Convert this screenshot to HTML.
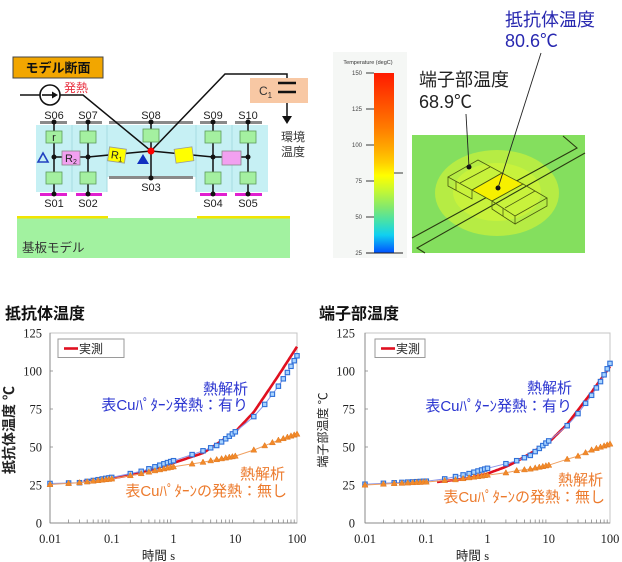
<!DOCTYPE html>
<html><head><meta charset="utf-8"><style>
html,body{margin:0;padding:0;background:#fff;}
svg{display:block;}
text{font-family:"Liberation Sans","Noto Sans CJK JP",sans-serif;}
.serif{font-family:"Liberation Serif","Noto Serif CJK SC",serif;}
</style></head><body>
<svg id="s" width="622" height="562" viewBox="0 0 622 562" xmlns="http://www.w3.org/2000/svg">
<defs>
<linearGradient id="cb" x1="0" y1="0" x2="0" y2="1">
<stop offset="0" stop-color="#ff1a00"/>
<stop offset="0.15" stop-color="#ff4a00"/>
<stop offset="0.3" stop-color="#ff7a00"/>
<stop offset="0.42" stop-color="#ffaa00"/>
<stop offset="0.5" stop-color="#ffd000"/>
<stop offset="0.57" stop-color="#ffff00"/>
<stop offset="0.65" stop-color="#c8f830"/>
<stop offset="0.75" stop-color="#80e870"/>
<stop offset="0.83" stop-color="#40e0b0"/>
<stop offset="0.9" stop-color="#10d0f0"/>
<stop offset="1" stop-color="#0050ff"/>
</linearGradient>
</defs>
<rect width="622" height="562" fill="#fff"/>

<!-- ===== circuit diagram ===== -->
<rect x="17" y="218" width="273" height="40" fill="#a2f2a0"/>
<rect x="17" y="216" width="91" height="2.5" fill="#f2e400"/>
<rect x="197" y="216" width="93" height="2.5" fill="#f2e400"/>
<text x="22" y="252" font-size="12.5" fill="#333">基板モデル</text>

<rect x="36" y="125" width="71" height="67" fill="#c6f0f4"/>
<rect x="107" y="125" width="89" height="52" fill="#c6f0f4"/>
<rect x="196" y="125" width="72" height="67" fill="#c6f0f4"/>
<line x1="72" y1="125" x2="72" y2="192" stroke="#a6dce2" stroke-width="1"/>
<line x1="107" y1="125" x2="107" y2="192" stroke="#a6dce2" stroke-width="1"/>
<line x1="196" y1="125" x2="196" y2="192" stroke="#a6dce2" stroke-width="1"/>
<line x1="232" y1="125" x2="232" y2="192" stroke="#a6dce2" stroke-width="1"/>

<g fill="#8a8a8a">
<rect x="40" y="121" width="27" height="3"/>
<rect x="76" y="121" width="26" height="3"/>
<rect x="109" y="121" width="84" height="3"/>
<rect x="200" y="121" width="27" height="3"/>
<rect x="235" y="121" width="27" height="3"/>
<rect x="109" y="176" width="84" height="3"/>
</g>
<g fill="#e020d0">
<rect x="40" y="193" width="27" height="3"/>
<rect x="76" y="193" width="26" height="3"/>
<rect x="200" y="193" width="27" height="3"/>
<rect x="235" y="193" width="27" height="3"/>
</g>

<g stroke="#111" stroke-width="1.5" fill="none">
<line x1="54" y1="122" x2="54" y2="194"/>
<line x1="88" y1="122" x2="88" y2="194"/>
<line x1="213" y1="122" x2="213" y2="194"/>
<line x1="248" y1="122" x2="248" y2="194"/>
<line x1="151" y1="122" x2="151" y2="178"/>
<line x1="54" y1="157" x2="88" y2="157"/>
<polyline points="88,157 151,151 213,157 248,157"/>
<line x1="20" y1="95" x2="40" y2="95"/>
<polyline points="60,95 83,95 151,151 225,74 287,74 287,83"/>
<line x1="287" y1="92" x2="287" y2="117"/>
</g>
<circle cx="50" cy="95" r="10" fill="#fff" stroke="#111" stroke-width="1.6"/>
<line x1="42" y1="95" x2="55" y2="95" stroke="#111" stroke-width="1.6"/>
<polygon points="58,95 52,91.5 52,98.5" fill="#111"/>

<rect x="13" y="57" width="90" height="21" fill="#f2a600" stroke="#444" stroke-width="1"/>
<text x="58" y="72.5" font-size="13" font-weight="bold" text-anchor="middle" fill="#111">モデル断面</text>
<text x="64" y="92" font-size="12" fill="#e83040">発熱</text>

<rect x="250" y="78" width="58" height="25" fill="#f8c8a4"/>
<text x="259" y="95" font-size="12" fill="#333">C<tspan font-size="8" dy="3">1</tspan></text>
<line x1="278" y1="83" x2="296" y2="83" stroke="#111" stroke-width="2.5"/>
<line x1="278" y1="92" x2="296" y2="92" stroke="#111" stroke-width="2.5"/>
<polygon points="282,116 292,116 287,124" fill="#111"/>
<text x="281" y="141" font-size="12" fill="#333">環境</text>
<text x="281" y="156" font-size="12" fill="#333">温度</text>

<g font-size="11" fill="#222" text-anchor="middle">
<text x="54" y="119">S06</text><text x="88" y="119">S07</text><text x="151" y="119">S08</text>
<text x="213" y="119">S09</text><text x="248" y="119">S10</text>
<text x="54" y="207">S01</text><text x="88" y="207">S02</text><text x="151" y="191">S03</text>
<text x="213" y="207">S04</text><text x="248" y="207">S05</text>
</g>

<g fill="#a4f0a0" stroke="#5c9c5c" stroke-width="0.8">
<rect x="46" y="131" width="16" height="12"/>
<rect x="80" y="131" width="16" height="12"/>
<rect x="143" y="129" width="16" height="13"/>
<rect x="205" y="131" width="16" height="12"/>
<rect x="240" y="131" width="16" height="12"/>
<rect x="46" y="172" width="16" height="12"/>
<rect x="80" y="172" width="16" height="12"/>
<rect x="205" y="172" width="16" height="12"/>
<rect x="240" y="172" width="16" height="12"/>
</g>
<text x="54" y="141" font-size="11" text-anchor="middle" fill="#222">r</text>
<rect x="62" y="151" width="18" height="14" fill="#f2a0f0" stroke="#888" stroke-width="0.8"/>
<text x="65" y="162" font-size="11" fill="#222">R<tspan font-size="7" dy="2">2</tspan></text>
<rect x="222" y="151" width="19" height="14" fill="#f2a0f0" stroke="#888" stroke-width="0.8"/>
<g transform="translate(117,155) rotate(8)">
<rect x="-8.5" y="-7" width="17" height="14" fill="#ffff00" stroke="#999" stroke-width="0.8"/>
<text x="-6" y="4" font-size="11" fill="#222">R<tspan font-size="7" dy="2">1</tspan></text>
</g>
<g transform="translate(184,155) rotate(-8)">
<rect x="-9" y="-7" width="18" height="14" fill="#ffff00" stroke="#999" stroke-width="0.8"/>
</g>
<polygon points="137,164 149,164 143,154" fill="#1030c0"/>
<polygon points="38,162 48,162 43,153" fill="none" stroke="#2040c0" stroke-width="1.6"/>
<g fill="#111">
<circle cx="54" cy="122" r="2.5"/><circle cx="88" cy="122" r="2.5"/><circle cx="151" cy="122" r="2.5"/>
<circle cx="213" cy="122" r="2.5"/><circle cx="248" cy="122" r="2.5"/>
<circle cx="54" cy="194" r="2.5"/><circle cx="88" cy="194" r="2.5"/><circle cx="151" cy="178" r="2.5"/>
<circle cx="213" cy="194" r="2.5"/><circle cx="248" cy="194" r="2.5"/>
<circle cx="54" cy="157" r="2.5"/><circle cx="88" cy="157" r="2.5"/>
<circle cx="213" cy="157" r="2.5"/><circle cx="248" cy="157" r="2.5"/>
</g>
<circle cx="151" cy="151" r="3.5" fill="#ff0000"/>

<!-- ===== colour bar ===== -->
<rect x="333" y="52" width="74" height="206" fill="#f5f7f5"/>
<text x="368" y="64" font-size="5.5" text-anchor="middle" fill="#333">Temperature (degC)</text>
<rect x="374" y="73" width="20" height="180" fill="url(#cb)"/>
<g stroke="#222" stroke-width="0.9">
<line x1="366" y1="73" x2="374" y2="73"/><line x1="366" y1="109" x2="374" y2="109"/>
<line x1="366" y1="145" x2="374" y2="145"/><line x1="366" y1="181" x2="374" y2="181"/>
<line x1="366" y1="217" x2="374" y2="217"/><line x1="366" y1="253" x2="403" y2="253"/>
<line x1="394" y1="173" x2="403" y2="173"/>
</g>
<g font-size="6" fill="#444" text-anchor="end">
<text x="362" y="75">150</text><text x="362" y="111">125</text><text x="362" y="147">100</text>
<text x="362" y="183">75</text><text x="362" y="219">50</text><text x="362" y="255">25</text>
</g>

<!-- ===== 3D view ===== -->
<rect x="412" y="135" width="173" height="118" fill="#84df5e"/>
<ellipse cx="497" cy="193" rx="62" ry="43" fill="#b6ec44"/>
<ellipse cx="497" cy="192" rx="44" ry="29" fill="#c8f23c"/>
<g stroke="#2a3a10" stroke-width="1.1" fill="none">
<polyline points="412,238 577,148 563,136"/>
<polyline points="425,253 417,248 585,153"/>
</g>
<polygon points="472,190 502,173 523,184 492,201" fill="#f6f000"/>
<g stroke="#4a5a10" stroke-width="0.8" fill="none">
<polygon points="448,177 478,160 502,173 472,190"/>
<polyline points="448,177 448,186 472,199 472,190"/>
<line x1="460" y1="183" x2="490" y2="167"/>
<line x1="456" y1="181" x2="456" y2="190"/>
<polygon points="472,190 502,173 523,184 492,201"/>
<polygon points="492,201 523,184 547,198 515,216"/>
<polyline points="492,201 492,209 515,224 515,216"/>
<polyline points="515,224 547,206 547,198"/>
<line x1="505" y1="208" x2="535" y2="191"/>
<line x1="503" y1="208" x2="503" y2="216"/>
</g>
<circle cx="469" cy="167" r="2.5" fill="#111"/>
<circle cx="498" cy="188" r="2.5" fill="#111"/>
<line x1="469" y1="167" x2="466" y2="114" stroke="#222" stroke-width="0.9"/>
<line x1="498" y1="188" x2="541" y2="53" stroke="#222" stroke-width="0.9"/>
<text x="505" y="26" font-size="18" fill="#2828b0">抵抗体温度</text>
<text x="505" y="47" font-size="18" fill="#2828b0">80.6℃</text>
<text x="419" y="86" font-size="18" fill="#222">端子部温度</text>
<text x="419" y="108" font-size="18" fill="#222">68.9℃</text>

<!-- ===== charts ===== -->
<text x="5" y="319" font-size="16" font-weight="bold" fill="#111">抵抗体温度</text>
<text x="319" y="319" font-size="16" font-weight="bold" fill="#111">端子部温度</text>
<g id="charts"></g>
</svg>
<script>
(function(){
var T=[];[-2,-1,0,1].forEach(function(e){for(var m=1;m<=9;m++)T.push(m*Math.pow(10,e));});T.push(100);
function interp(p,t){var lt=Math.log10(t);for(var i=0;i<p.length-1;i++){var a=Math.log10(p[i][0]),b=Math.log10(p[i+1][0]);if(lt<=b){var f=(lt-a)/(b-a);if(f<0)f=0;return p[i][1]+f*(p[i+1][1]-p[i][1]);}}return p[p.length-1][1];}
function chart(X0,D,W,red,blue,orange,ylab,ylabX,ylabSize,ylabBold,tickX,leg,blueTxt,orTxt){
 var s='';var x=function(t){return X0+(Math.log10(t)+2)*D;};var y=function(v){return 523-v*1.52;};
 s+='<rect x="'+X0+'" y="333" width="'+W+'" height="190" fill="#fff" stroke="#c4c4c4" stroke-width="1"/>';
 s+='<line x1="'+X0+'" y1="333" x2="'+X0+'" y2="523" stroke="#888" stroke-width="1"/>';
 s+='<line x1="'+X0+'" y1="523" x2="'+(X0+W)+'" y2="523" stroke="#888" stroke-width="1"/>';
 for(var k=0;k<4;k++)for(var m=2;m<=9;m++){var xx=X0+(k+Math.log10(m))*D;s+='<line x1="'+xx.toFixed(1)+'" y1="523" x2="'+xx.toFixed(1)+'" y2="519.5" stroke="#888" stroke-width="0.8"/>';}
 [25,50,75,100].forEach(function(v){s+='<line x1="'+X0+'" y1="'+y(v)+'" x2="'+(X0+3)+'" y2="'+y(v)+'" stroke="#888" stroke-width="0.8"/>';});
 [0,25,50,75,100,125].forEach(function(v){s+='<text class="serif" x="'+tickX+'" y="'+(y(v)+4.5)+'" font-size="12.5" text-anchor="end" fill="#222">'+v+'</text>';});
 ['0.01','0.1','1','10','100'].forEach(function(l,i){s+='<text class="serif" x="'+(X0+i*D)+'" y="543" font-size="12.5" text-anchor="middle" fill="#222">'+l+'</text>';});
 s+='<text x="'+(X0+W/2-15)+'" y="560" font-size="12.5" text-anchor="middle" fill="#222">時間 <tspan class="serif">s</tspan></text>';
 s+='<text transform="translate('+ylabX+',430) rotate(-90)" font-size="'+ylabSize+'" '+(ylabBold?'font-weight="bold" ':'')+'text-anchor="middle" fill="#222">'+ylab+'</text>';
 // red
 var pts=[];var t0=red[0][0];for(var i=0;i<=140;i++){var t=t0*Math.pow(100/t0,i/140);pts.push(x(t).toFixed(1)+','+y(interp(red,t)).toFixed(1));}
 s+='<polyline points="'+pts.join(' ')+'" fill="none" stroke="#e01020" stroke-width="2.6" stroke-linejoin="round"/>';
 // blue
 var bp=T.map(function(t){return [x(t),y(interp(blue,t))];});
 s+='<polyline points="'+bp.map(function(p){return p[0].toFixed(1)+','+p[1].toFixed(1);}).join(' ')+'" fill="none" stroke="#8a96e8" stroke-width="1"/>';
 bp.forEach(function(p){s+='<rect x="'+(p[0]-2.2).toFixed(1)+'" y="'+(p[1]-2.2).toFixed(1)+'" width="4.4" height="4.4" fill="#a8d4ff" stroke="#2f6fd8" stroke-width="1.1"/>';});
 // orange
 var op=T.map(function(t){return [x(t),y(interp(orange,t))];});
 s+='<polyline points="'+op.map(function(p){return p[0].toFixed(1)+','+p[1].toFixed(1);}).join(' ')+'" fill="none" stroke="#f0a060" stroke-width="1"/>';
 op.forEach(function(p){s+='<polygon points="'+p[0].toFixed(1)+','+(p[1]-3.2).toFixed(1)+' '+(p[0]-3).toFixed(1)+','+(p[1]+2.2).toFixed(1)+' '+(p[0]+3).toFixed(1)+','+(p[1]+2.2).toFixed(1)+'" fill="#f28a2a" stroke="#e07820" stroke-width="0.5"/>';});
 // legend
 s+='<rect x="'+leg[0]+'" y="339" width="'+leg[1]+'" height="18.5" fill="#fff" stroke="#9a9a9a" stroke-width="1"/>';
 s+='<line x1="'+(leg[0]+6)+'" y1="348.5" x2="'+(leg[0]+20)+'" y2="348.5" stroke="#e01020" stroke-width="2.6"/>';
 s+='<text x="'+(leg[0]+21)+'" y="353" font-size="12" fill="#222">実測</text>';
 // annotations
 s+='<text x="'+blueTxt[0]+'" y="'+blueTxt[1]+'" font-size="15" text-anchor="end" fill="#2a34d0">熱解析</text>';
 s+='<text x="'+blueTxt[0]+'" y="'+blueTxt[2]+'" font-size="15" text-anchor="end" fill="#2a34d0">表Cuﾊﾟﾀｰﾝ発熱：有り</text>';
 s+='<text x="'+orTxt[0]+'" y="'+orTxt[1]+'" font-size="15" text-anchor="end" fill="#ec7a2c">熱解析</text>';
 s+='<text x="'+(orTxt[0]+2)+'" y="'+orTxt[2]+'" font-size="15" text-anchor="end" fill="#ec7a2c">表Cuﾊﾟﾀｰﾝの発熱：無し</text>';
 return s;
}
var html='';
html+=chart(50,61.75,247,
 [[0.035,27.5],[0.1,29.3],[0.3,33],[1,39.5],[3,46],[10,60],[20,73],[50,97],[100,116]],
 [[0.01,26],[0.03,26.5],[0.1,30],[0.2,32.5],[0.3,34],[0.5,37],[1,41],[2,45],[3,47.5],[5,51],[10,60],[20,70],[30,78],[50,90],[70,99],[100,110]],
 [[0.01,25.3],[0.03,26.5],[0.1,29],[0.3,32.5],[1,37],[3,40],[10,44],[20,48],[50,54.5],[100,58.5]],
 '抵抗体温度 ℃',14,14,true,42,[58,66],[248,394,410],[285,479,496]);
html+=chart(365,61.25,245,
 [[0.15,27],[0.5,29.5],[1,32.5],[2,37],[3,40.5],[10,53],[20,65],[50,86],[100,103]],
 [[0.01,25.5],[0.1,27.5],[0.2,29],[0.5,32.5],[1,36],[2,39],[3,41],[5,44.5],[10,54],[20,64],[30,72],[50,84],[70,93],[100,105]],
 [[0.01,25],[0.1,27],[0.3,28.5],[1,31.5],[2,33],[3,34.5],[5,35.5],[10,38],[20,42],[30,44],[50,48],[100,52]],
 '端子部温度 ℃',327,12,false,355,[375,50],[572,393,411],[603,485,502]);
document.getElementById('charts').innerHTML=html;
})();
</script>
</body></html>
